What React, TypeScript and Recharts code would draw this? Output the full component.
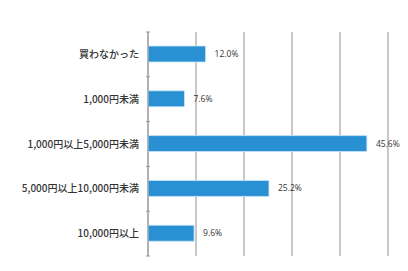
import { Bar, BarChart, CartesianGrid, LabelList, XAxis, YAxis } from "recharts";

const categories = [
  "買わなかった",
  "1,000円未満",
  "1,000円以上5,000円未満",
  "5,000円以上10,000円未満",
  "10,000円以上",
];
const shares = [12.0, 7.6, 45.6, 25.2, 9.6];
const xTicks = [0, 10, 20, 30, 40, 50];

const data = categories.map((name, i) => ({ name, value: shares[i] }));

const W = 408;
const H = 271;
const TOP = 32;
const BOTTOM = 15;
const BAND = (H - TOP - BOTTOM) / categories.length;

function CategoryTick(props: any) {
  const { x, y, payload, index } = props;
  const half = BAND / 2;
  return (
    <g>
      <line x1={x + 6} x2={x + 10} y1={y - half} y2={y - half} stroke="#999" />
      {index === categories.length - 1 && (
        <line x1={x + 6} x2={x + 10} y1={y + half} y2={y + half} stroke="#999" />
      )}
      <text
        x={x - 1}
        y={y}
        dy="0.35em"
        textAnchor="end"
        fontSize={10}
        fontWeight={500}
        fill="#333"
        fontFamily="'Noto Sans CJK JP', sans-serif"
      >
        {payload.value}
      </text>
    </g>
  );
}

export default function App() {
  return (
    <div
      style={{
        margin: -8,
        width: W,
        height: H,
        background: "#f1f1f1",
        position: "relative",
        overflow: "hidden",
      }}
    >
      <div
        style={{
          position: "absolute",
          left: 6,
          top: 6,
          width: W - 10,
          height: H,
          background: "#fff",
          border: "1px solid #ddd",
          boxSizing: "border-box",
        }}
      />
      <div style={{ position: "absolute", left: 0, top: 0 }}>
        <BarChart
          width={W}
          height={H}
          data={data}
          layout="vertical"
          margin={{ top: TOP, right: 20, bottom: BOTTOM, left: 0 }}
          barSize={16}
        >
          <CartesianGrid horizontal={false} stroke="#aaa" strokeWidth={1.3} />
          <XAxis type="number" domain={[0, 50]} ticks={xTicks} hide />
          <YAxis
            type="category"
            dataKey="name"
            width={148}
            tickLine={false}
            axisLine={{ stroke: "#999" }}
            tick={<CategoryTick />}
            interval={0}
          />
          <Bar
            dataKey="value"
            fill="#2a90d4"
            stroke="#cfe6f6"
            strokeWidth={0.8}
            isAnimationActive={false}
          >
            <LabelList
              dataKey="value"
              position="right"
              offset={9}
              fontSize={8.5}
              fill="#333"
              fontFamily="'Open Sans', sans-serif"
              formatter={(v: any) => `${Number(v).toFixed(1)}%`}
            />
          </Bar>
        </BarChart>
      </div>
    </div>
  );
}
